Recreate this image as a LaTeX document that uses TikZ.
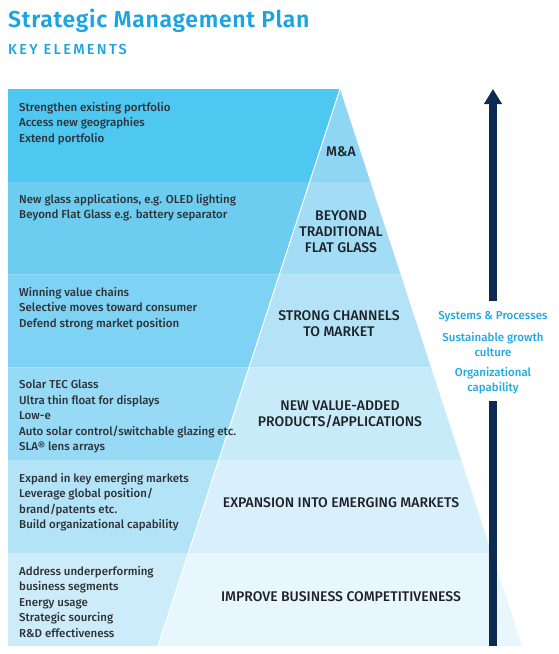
\documentclass[tikz,border=0pt]{standalone}
\usepackage{fontspec}
\setmainfont{Fira Sans}[UprightFont={* Medium}, BoldFont={* SemiBold}]
\usetikzlibrary{arrows.meta,positioning}

\definecolor{titlecyan}{HTML}{1BA4DF}
\definecolor{asidecyan}{HTML}{22A8E0}
\definecolor{inkgray}{HTML}{2E3236}
\definecolor{inkdark}{HTML}{1E2226}
\definecolor{navy}{HTML}{0D2B52}
\definecolor{bandA}{HTML}{4EC7F1}
\definecolor{bandB}{HTML}{6CCDF1}
\definecolor{bandC}{HTML}{7ED2F3}
\definecolor{bandD}{HTML}{97DAF5}
\definecolor{bandE}{HTML}{B2E3F7}
\definecolor{bandF}{HTML}{CDECF9}
\definecolor{pyrA}{HTML}{8ED6F3}
\definecolor{pyrB}{HTML}{A2DCF5}
\definecolor{pyrC}{HTML}{B4E3F7}
\definecolor{pyrD}{HTML}{C8EBF9}
\definecolor{pyrE}{HTML}{D8F0FB}
\definecolor{pyrF}{HTML}{E8F6FD}

\begin{document}
\begin{tikzpicture}[
	x=1pt, y=-1pt,
	font=\fontsize{11.5}{15.6}\selectfont,
	>=Stealth,
	item/.style={
		anchor=north west, align=left,
		inner sep=0pt, text=inkgray
	},
	tier/.style={
		align=center, inner sep=0pt, text=inkdark,
		font=\fontsize{14}{16}\selectfont
	},
	aside/.style={
		align=center, inner sep=0pt, text=asidecyan,
		font=\fontsize{11.5}{15}\selectfont
	},
	shaft/.style={line width=7.5pt, draw=navy}
]

\useasboundingbox[fill=white] (0,0) rectangle (558,654);

% Heading
\node[anchor=base west, inner sep=0pt, text=titlecyan,
	font=\fontsize{23}{27}\selectfont\bfseries\addfontfeature{LetterSpace=3}] (title) at (8,27.5)
	{Strategic Management Plan};
\node[anchor=base west, inner sep=0pt, text=titlecyan,
	font=\fontsize{14.5}{16}\selectfont\addfontfeature{LetterSpace=16}] (subtitle) at (8,54)
	{KEY ELEMENTS};

% Bands: left part and pyramid part, apex (340,89), base 158--522 at y=646
\coordinate (apex) at (340,89);
\coordinate (pbl)  at (158,646);
\coordinate (pbr)  at (522,646);
\foreach \yt/\fl/\fp in {89/bandA/pyrA,181.8/bandB/pyrB,274.6/bandC/pyrC,367.4/bandD/pyrD,460.2/bandE/pyrE,553/bandF/pyrF}{
	\pgfmathsetmacro\yb{\yt+92.8}
	\pgfmathsetmacro\xt{0.3268*(\yt-89)}
	\pgfmathsetmacro\xb{0.3268*(\yb-89)}
	\fill[\fl] (8,\yt) -- (340-\xt,\yt) -- (340-\xb,\yb) -- (8,\yb) -- cycle;
	\fill[\fp] (340-\xt,\yt) -- (340+\xt,\yt) -- (340+\xb,\yb) -- (340-\xb,\yb) -- cycle;
}
\draw[white, line width=1pt] (apex) -- (pbl);

% Left column
\node[item] (mna)    at (19,101.7) {Strengthen existing portfolio\\Access new geographies\\Extend portfolio};
\node[item] (glass)  at (19,193.7) {New glass applications, e.g. OLED lighting\\Beyond Flat Glass e.g. battery separator};
\node[item] (chain)  at (19,286.7) {Winning value chains\\Selective moves toward consumer\\Defend strong market position};
\node[item] (solar)  at (19,379.7) {Solar TEC Glass\\Ultra thin float for displays\\Low-e\\Auto solar control/switchable glazing etc.\\SLA\textregistered{} lens arrays};
\node[item] (expand) at (19,472.7) {Expand in key emerging markets\\Leverage global position/\\brand/patents etc.\\Build organizational capability};
\node[item] (address) at (19,565.7) {Address underperforming\\business segments\\Energy usage\\Strategic sourcing\\R\&D effectiveness};

% Pyramid tiers
\node[tier] (tma)     at (341,152)   {M\&A};
\node[tier] (tbeyond) at (341,231.5) {BEYOND\\TRADITIONAL\\FLAT GLASS};
\node[tier] (tstrong) at (339,323.5) {STRONG CHANNELS\\TO MARKET};
\node[tier] (tnew)    at (340,414)   {NEW VALUE-ADDED\\PRODUCTS/APPLICATIONS};
\node[tier] (texpand) at (341,503)   {EXPANSION INTO EMERGING MARKETS};
\node[tier] (timprove) at (341,597)  {IMPROVE BUSINESS COMPETITIVENESS};

% Right column
\node[aside] (sys)    at (493,317) {Systems \& Processes};
\node[aside] (grow)   at (493,344.5) {Sustainable growth\\culture};
\node[aside] (orgcap) at (493,380.5) {Organizational\\capability};

\coordinate (tip)  at (493,89);
\coordinate (foot) at (493,646);
\draw[shaft, -{Triangle[width=17pt, length=15pt]}] ([yshift=10pt]sys.north) -- (tip);
\draw[shaft] (foot) -- ([yshift=-7pt]orgcap.south);

\end{tikzpicture}
\end{document}
